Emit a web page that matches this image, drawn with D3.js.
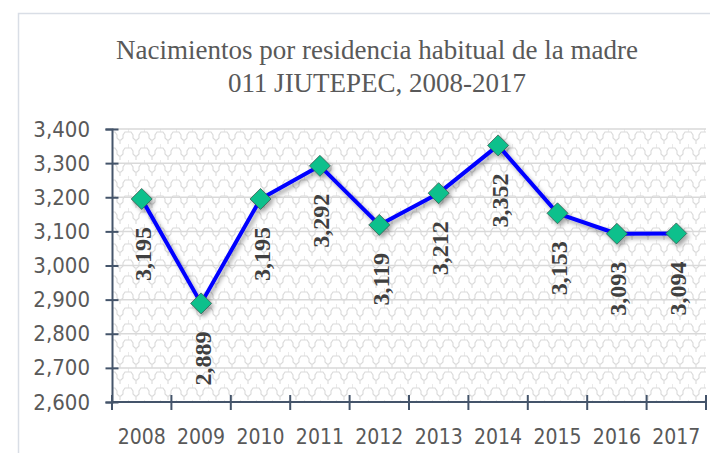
<!DOCTYPE html>
<html>
<head>
<meta charset="utf-8">
<script src="https://cdn.jsdelivr.net/npm/d3@7"></script>
<style>
  html, body { margin: 0; padding: 0; background: #fff; }
  svg { display: block; }
</style>
</head>
<body>
<svg id="chart"></svg>
<script>
// data
const years = ['2008', '2009', '2010', '2011', '2012', '2013', '2014', '2015', '2016', '2017'];
const births = [3195, 2889, 3195, 3292, 3119, 3212, 3352, 3153, 3093, 3094];
const yTicks = [2600, 2700, 2800, 2900, 3000, 3100, 3200, 3300, 3400];
const titleLines = ['Nacimientos por residencia habitual de la madre', '011 JIUTEPEC, 2008-2017'];

const width = 710, height = 453;
const margin = { top: 129, right: 4, bottom: 51, left: 112 };
const axisColor = '#44546a';
const textColor = '#595959';
const sansFont = '"Liberation Sans Narrow", "DejaVu Sans Condensed", "Liberation Sans", sans-serif';
const serifFont = '"Liberation Serif", "DejaVu Serif", serif';

const svg = d3.select('#chart')
  .attr('width', width)
  .attr('height', height)
  .attr('viewBox', `0 0 ${width} ${height}`);

const defs = svg.append('defs');

// wavy fill pattern of the plot area
const pat = defs.append('pattern')
  .attr('id', 'wave')
  .attr('patternUnits', 'userSpaceOnUse')
  .attr('width', 16)
  .attr('height', 16);
pat.append('rect').attr('width', 16).attr('height', 16).attr('fill', '#fff');
pat.append('path')
  .attr('d', 'M0,4 L3,4 L5,7 L5,10 L7,12 L9,12 L11,10 L11,7 L13,4 L16,4 M8,12 L8,16 M0,0 L0,4')
  .attr('fill', 'none')
  .attr('stroke', '#dadada')
  .attr('stroke-width', 1.1);

const shadow = defs.append('filter')
  .attr('id', 'shadow')
  .attr('x', '-30%').attr('y', '-30%')
  .attr('width', '160%').attr('height', '160%');
shadow.append('feDropShadow')
  .attr('dx', 2.5).attr('dy', 3)
  .attr('stdDeviation', 2.2)
  .attr('flood-color', '#000')
  .attr('flood-opacity', 0.35);

// outer chart border (cropped in the reference)
svg.append('rect')
  .attr('x', 18.5).attr('y', 13.5)
  .attr('width', 720).attr('height', 460)
  .attr('fill', '#fff')
  .attr('stroke', '#d9dee6')
  .attr('stroke-width', 1.5);

const innerW = width - margin.left - margin.right;
const innerH = height - margin.top - margin.bottom;

const x = d3.scaleBand().domain(years).range([margin.left, margin.left + innerW]);
const y = d3.scaleLinear().domain([2600, 3400]).range([margin.top + innerH, margin.top]);

// plot background
svg.append('rect')
  .attr('x', margin.left).attr('y', margin.top)
  .attr('width', innerW).attr('height', innerH)
  .attr('fill', 'url(#wave)');

// gridlines
svg.append('g')
  .selectAll('line')
  .data(yTicks.slice(1))
  .join('line')
  .attr('x1', margin.left).attr('x2', margin.left + innerW)
  .attr('y1', d => y(d)).attr('y2', d => y(d))
  .attr('stroke', '#d9d9d9')
  .attr('stroke-width', 1.5);

// y axis
const yAxis = svg.append('g')
  .attr('transform', `translate(${margin.left},0)`)
  .call(d3.axisLeft(y).tickValues(yTicks).tickFormat(d3.format(',')).tickSize(6.5).tickPadding(16));
yAxis.select('.domain').attr('stroke', axisColor).attr('stroke-width', 2);
yAxis.selectAll('.tick line').attr('stroke', axisColor).attr('stroke-width', 2).attr('x2', 6.5).attr('x1', -6.5);
yAxis.selectAll('.tick text')
  .attr('x', -22)
  .attr('fill', textColor)
  .attr('font-family', sansFont)
  .attr('font-size', 22);

// x axis: ticks at band edges, labels at band centres
const xAxisG = svg.append('g');
xAxisG.append('line')
  .attr('x1', margin.left).attr('x2', margin.left + innerW)
  .attr('y1', y(2600)).attr('y2', y(2600))
  .attr('stroke', axisColor).attr('stroke-width', 2);
const edges = years.map(d => x(d)).concat([x(years[years.length - 1]) + x.bandwidth()]);
xAxisG.selectAll('.xt')
  .data(edges)
  .join('line')
  .attr('class', 'xt')
  .attr('x1', d => d).attr('x2', d => d)
  .attr('y1', y(2600) - 7).attr('y2', y(2600) + 8)
  .attr('stroke', axisColor).attr('stroke-width', 2);
xAxisG.selectAll('.xl')
  .data(years)
  .join('text')
  .attr('class', 'xl')
  .attr('x', d => x(d) + x.bandwidth() / 2)
  .attr('y', y(2600) + 42)
  .attr('text-anchor', 'middle')
  .attr('fill', textColor)
  .attr('font-family', sansFont)
  .attr('font-size', 21)
  .text(d => d);

// title
svg.append('g')
  .selectAll('text')
  .data(titleLines)
  .join('text')
  .attr('x', 377)
  .attr('y', (d, i) => 59 + i * 33)
  .attr('text-anchor', 'middle')
  .attr('fill', textColor)
  .attr('font-family', serifFont)
  .attr('font-size', 27)
  .text(d => d);

// series
const pts = years.map((yr, i) => ({ year: yr, value: births[i] }));
const cx = d => x(d.year) + x.bandwidth() / 2;

const series = svg.append('g').attr('filter', 'url(#shadow)');
series.append('path')
  .datum(pts)
  .attr('d', d3.line().x(cx).y(d => y(d.value)))
  .attr('fill', 'none')
  .attr('stroke', '#0000ff')
  .attr('stroke-width', 4)
  .attr('stroke-linejoin', 'round');

series.selectAll('.mk')
  .data(pts)
  .join('path')
  .attr('class', 'mk')
  .attr('transform', d => `translate(${cx(d)},${y(d.value)})`)
  .attr('d', 'M0,-10.5L10.5,0L0,10.5L-10.5,0Z')
  .attr('fill', '#0cc08c')
  .attr('stroke', '#3b5a50')
  .attr('stroke-width', 0.8);

// data labels, rotated, below each point
svg.append('g')
  .selectAll('text')
  .data(pts)
  .join('text')
  .attr('transform', d => `translate(${cx(d) + 1},${y(d.value) + 28}) rotate(-90)`)
  .attr('text-anchor', 'end')
  .attr('dy', '0.35em')
  .attr('fill', '#404040')
  .attr('font-family', serifFont)
  .attr('font-weight', 'bold')
  .attr('font-size', 24)
  .text(d => d3.format(',')(d.value));
</script>
</body>
</html>
